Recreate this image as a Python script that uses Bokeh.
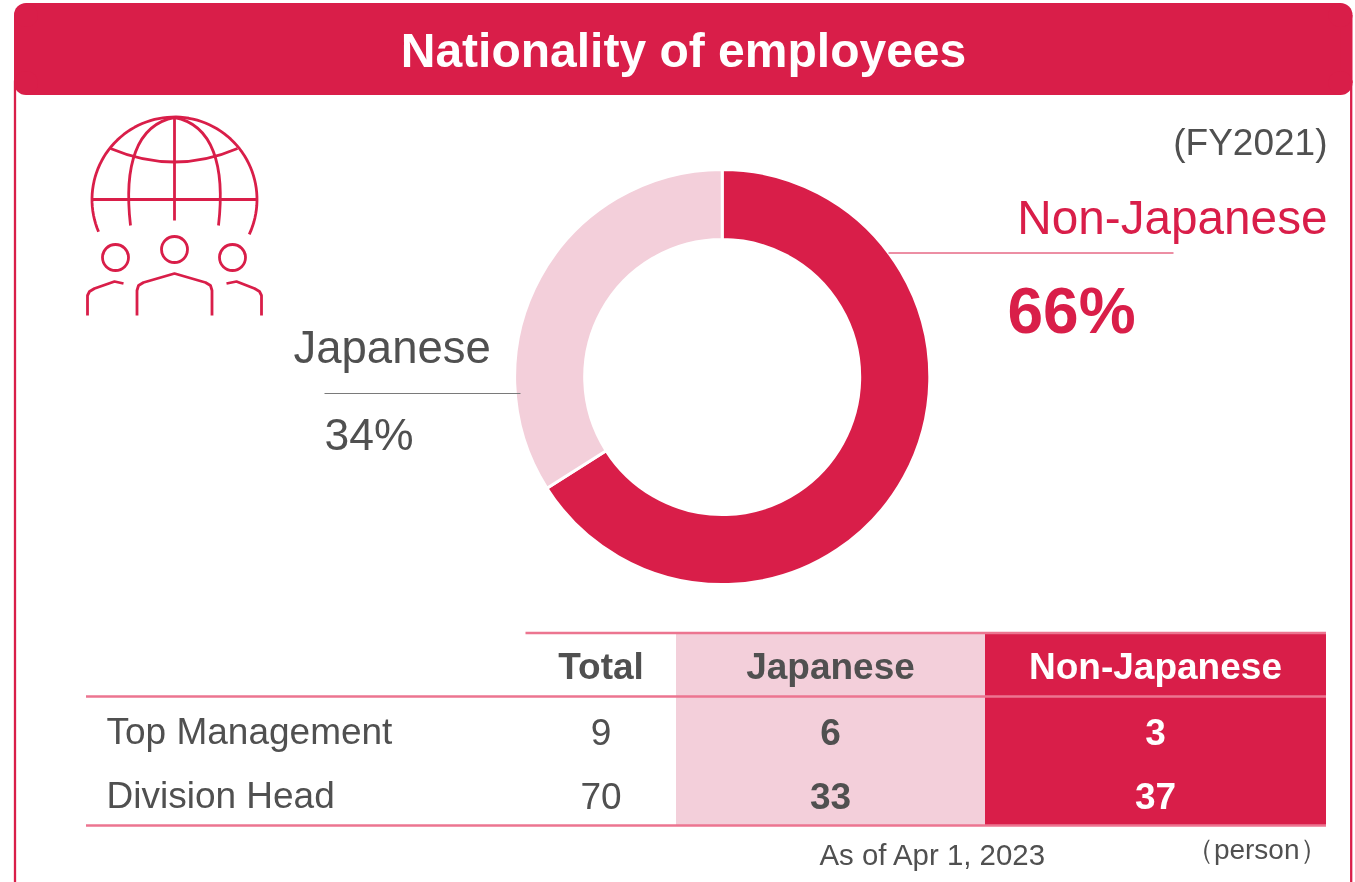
import math
from bokeh.plotting import figure
from bokeh.embed import file_html
from bokeh.resources import INLINE
from bokeh.core.properties import value

title = "Nationality of employees"
period = "(FY2021)"
slice_names = ["Non-Japanese", "Japanese"]
slice_values = [66, 34]
col_headers = ["Total", "Japanese", "Non-Japanese"]
row_names = ["Top Management", "Division Head"]
total = [9, 70]
japanese = [6, 33]
non_japanese = [3, 37]
as_of = "As of Apr 1, 2023"
unit = "\uff08person\uff09"

RED = "#D91E49"
PINK = "#F3CFDA"
RULE = "#EC7590"
GREY = "#505050"
FONT = value("Liberation Sans")

p = figure(width=1355, height=882, x_range=(0, 1355), y_range=(882, 0),
           toolbar_location=None, output_backend="svg", min_border=0,
           outline_line_color=None, background_fill_color="white")
p.axis.visible = False
p.grid.visible = False
p.styles = {"position": "fixed", "left": "0px", "top": "0px"}


def txt(x, y, s, size, color=GREY, align="left", bold=False):
    p.text([x], [y], text=[s], text_font=FONT, text_font_size=f"{size}px", text_color=color,
           text_align=align, text_baseline="middle", text_font_style="bold" if bold else "normal")


# frame and title band
L, R, T, B, RAD = 13.5, 1352, 2.4, 94.4, 12
p.segment([14.5, 1350.7], [80, 80], [14.5, 1350.7], [882, 882], line_color=RED, line_width=2.3)
p.quad(left=[L], right=[R], top=[T + RAD], bottom=[B - RAD], fill_color=RED, line_color=None)
p.quad(left=[L + RAD], right=[R - RAD], top=[T], bottom=[B], fill_color=RED, line_color=None)
p.circle([L + RAD, R - RAD, L + RAD, R - RAD], [T + RAD, T + RAD, B - RAD, B - RAD], radius=RAD,
         fill_color=RED, line_color=None)
txt(683, 50, title, 48, "white", "center", True)

# donut
cx, cy, r_out, r_in = 721.7, 376.5, 207.6, 137.5
angle = math.pi / 2
tot = sum(slice_values)
for v, c in zip(slice_values, [RED, PINK]):
    a2 = angle - 2 * math.pi * v / tot
    p.annular_wedge([cx], [cy], inner_radius=r_in, outer_radius=r_out,
                    start_angle=[angle], end_angle=[a2], direction="clock",
                    fill_color=c, line_color="white", line_width=3)
    angle = a2

p.segment([888], [252.5], [1173], [252.5], line_color=RED, line_width=1)
p.segment([324], [393], [520], [393], line_color="#7a7a7a", line_width=1)
txt(1327, 217, slice_names[0], 47.7, RED, "right")
txt(1007, 310, f"{slice_values[0]}%", 64, RED, "left", True)
txt(293, 347, slice_names[1], 45.5, GREY)
txt(324, 434, f"{slice_values[1]}%", 44.5, GREY)
txt(1327, 142, period, 37, GREY, "right")

# icon
ic = dict(line_color=RED, line_width=2.8)
gx = 174
arc_pts = [math.radians(d) for d in range(-25, 206, 3)]
p.line([gx + 82.5 * math.cos(a) for a in arc_pts], [199 - 82.5 * math.sin(a) for a in arc_pts], **ic)
for s in (-1, 1):
    p.bezier(x0=[gx], y0=[117], x1=[gx + s * 44], y1=[225],
             cx0=[gx + s * 38], cy0=[124], cx1=[gx + s * 51], cy1=[165], **ic)
p.quadratic(x0=[110], y0=[148], x1=[237], y1=[148], cx=[174], cy=[175], **ic)
p.segment([174], [117], [174], [220], **ic)
p.segment([92], [199], [256], [199], **ic)
for hx, hy in [(115, 257), (174, 249), (232, 257)]:
    p.circle([hx], [hy], radius=13, fill_color=None, **ic)
p.line([136.5, 136.5, 138, 143, 174, 205, 210, 211.5, 211.5], [315, 290, 285, 282, 273, 282, 285, 290, 315], **ic)
p.line([87, 87, 89, 94, 114, 123], [315, 295, 291, 288, 281, 283], **ic)
p.line([261, 261, 259, 254, 236, 226], [315, 295, 291, 288, 281, 283], **ic)

# table
top, h1, bot = 632.5, 696, 825
p.quad(left=[675.5], right=[984.5], top=[top], bottom=[bot], fill_color=PINK, line_color=None)
p.quad(left=[984.5], right=[1325.5], top=[top], bottom=[bot], fill_color=RED, line_color=None)
p.segment([525, 85.5, 85.5], [top, h1, bot], [1325.5, 1325.5, 1325.5], [top, h1, bot],
          line_color=RULE, line_width=2.4)
col_x = [600.5, 830, 1155]
head_col = [GREY, GREY, "white"]
for x, s, c in zip(col_x, col_headers, head_col):
    txt(x, 666, s, 37, c, "center", True)
for i, y in enumerate([731, 795]):
    txt(106, y, row_names[i], 37, GREY)
    txt(col_x[0], y, str(total[i]), 37, GREY, "center")
    txt(col_x[1], y, str(japanese[i]), 37, GREY, "center", True)
    txt(col_x[2], y, str(non_japanese[i]), 37, "white", "center", True)
txt(819, 854, as_of, 29.4, GREY)
txt(1327, 848.5, unit, 28, GREY, "right")

open("out.html", "w").write(file_html(p, INLINE))
